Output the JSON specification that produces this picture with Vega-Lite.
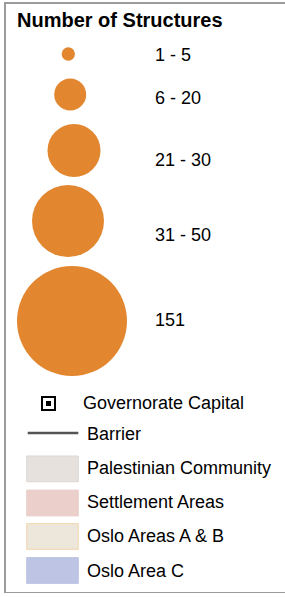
{
  "$schema": "https://vega.github.io/schema/vega-lite/v6.json",
  "width": 285,
  "height": 590,
  "autosize": "none",
  "padding": {"left": 5, "top": 3, "right": 0, "bottom": 0},
  "background": "white",
  "title": {
    "text": "Number of Structures",
    "anchor": "start",
    "frame": "group",
    "orient": "top",
    "offset": -28,
    "dx": 12,
    "font": "Liberation Sans",
    "fontSize": 20,
    "fontWeight": "bold",
    "color": "#000000"
  },
  "config": {
    "view": {"stroke": "#9b9b9b", "strokeWidth": 2},
    "text": {"font": "Liberation Sans"}
  },
  "datasets": {
    "structures": [
      {"label": "1 - 5", "rank": 0},
      {"label": "6 - 20", "rank": 1},
      {"label": "21 - 30", "rank": 2},
      {"label": "31 - 50", "rank": 3},
      {"label": "151", "rank": 4}
    ],
    "features": [
      {"label": "Governorate Capital", "rank": 0},
      {"label": "Barrier", "rank": 1},
      {"label": "Palestinian Community", "rank": 2},
      {"label": "Settlement Areas", "rank": 3},
      {"label": "Oslo Areas A & B", "rank": 4},
      {"label": "Oslo Area C", "rank": 5}
    ]
  },
  "layer": [
    {
      "data": {"name": "structures"},
      "mark": {"type": "point", "shape": "circle", "filled": true, "opacity": 1, "color": "#E2872F", "strokeWidth": 0},
      "encoding": {
        "x": {"field": "rank", "type": "quantitative", "axis": null, "scale": {"domain": [0, 1, 2, 3, 4], "range": [63.3, 65.2, 69, 63, 67], "zero": false, "nice": false}},
        "y": {"field": "rank", "type": "quantitative", "axis": null, "scale": {"domain": [0, 1, 2, 3, 4], "range": [51, 91.5, 147.5, 218, 318], "zero": false, "nice": false}},
        "size": {"field": "label", "type": "ordinal", "legend": null, "scale": {"type": "ordinal", "domain": ["1 - 5", "6 - 20", "21 - 30", "31 - 50", "151"], "range": [177, 1024, 2809, 5184, 12100]}}
      }
    },
    {
      "data": {"name": "structures"},
      "mark": {"type": "text", "align": "left", "baseline": "middle", "fontSize": 18, "color": "#000000", "font": "Liberation Sans"},
      "encoding": {
        "x": {"field": "rank", "type": "quantitative", "axis": null, "scale": {"domain": [0, 4], "range": [150, 150], "zero": false, "nice": false}},
        "y": {"field": "rank", "type": "quantitative", "axis": null, "scale": {"domain": [0, 1, 2, 3, 4], "range": [53.4, 96, 158, 233, 318], "zero": false, "nice": false}},
        "text": {"field": "label"}
      }
    },
    {
      "data": {"name": "features"},
      "mark": {"type": "point", "filled": true, "opacity": 1},
      "encoding": {
        "x": {"field": "rank", "type": "quantitative", "axis": null, "scale": {"domain": [0, 1, 2, 3, 4, 5], "range": [43.5, 48, 47.5, 47.5, 47.5, 47.5], "zero": false, "nice": false}},
        "y": {"field": "rank", "type": "quantitative", "axis": null, "scale": {"domain": [0, 1, 2, 3, 4, 5], "range": [400.5, 430, 465.9, 500, 533.5, 567.5], "zero": false, "nice": false}},
        "shape": {"field": "label", "type": "nominal", "legend": null, "scale": {"domain": ["Governorate Capital", "Barrier", "Palestinian Community", "Settlement Areas", "Oslo Areas A & B", "Oslo Area C"], "range": ["square", "stroke", "M-1,-0.5H1V0.5H-1Z", "M-1,-0.5H1V0.5H-1Z", "M-1,-0.5H1V0.5H-1Z", "M-1,-0.5H1V0.5H-1Z"]}},
        "size": {"field": "label", "type": "ordinal", "legend": null, "scale": {"type": "ordinal", "domain": ["Governorate Capital", "Barrier", "Palestinian Community", "Settlement Areas", "Oslo Areas A & B", "Oslo Area C"], "range": [169, 2560, 2663, 2663, 2663, 2663]}},
        "fill": {"field": "label", "type": "nominal", "legend": null, "scale": {"domain": ["Governorate Capital", "Barrier", "Palestinian Community", "Settlement Areas", "Oslo Areas A & B", "Oslo Area C"], "range": ["#ffffff", "#555555", "#E6E1DD", "#EACFCB", "#EDE6DA", "#BDC4E4"]}},
        "stroke": {"field": "label", "type": "nominal", "legend": null, "scale": {"domain": ["Governorate Capital", "Barrier", "Palestinian Community", "Settlement Areas", "Oslo Areas A & B", "Oslo Area C"], "range": ["#000000", "#555555", "#DCD8D5", "#EACFCB", "#F4D8B0", "#BDC4E4"]}},
        "strokeWidth": {"field": "label", "type": "ordinal", "legend": null, "scale": {"type": "ordinal", "domain": ["Governorate Capital", "Barrier", "Palestinian Community", "Settlement Areas", "Oslo Areas A & B", "Oslo Area C"], "range": [2, 2.5, 1, 1, 1, 1]}}
      }
    },
    {
      "data": {"name": "features"},
      "transform": [{"filter": "datum.label === 'Governorate Capital'"}],
      "mark": {"type": "point", "shape": "square", "filled": true, "opacity": 1, "color": "#000000", "strokeWidth": 0, "size": 25},
      "encoding": {
        "x": {"field": "rank", "type": "quantitative", "axis": null, "scale": {"domain": [0, 5], "range": [43.5, 43.5], "zero": false, "nice": false}},
        "y": {"field": "rank", "type": "quantitative", "axis": null, "scale": {"domain": [0, 5], "range": [400.5, 567.5], "zero": false, "nice": false}}
      }
    },
    {
      "data": {"name": "features"},
      "mark": {"type": "text", "align": "left", "baseline": "middle", "fontSize": 18, "color": "#000000", "font": "Liberation Sans"},
      "encoding": {
        "x": {"field": "rank", "type": "quantitative", "axis": null, "scale": {"domain": [0, 1, 2, 3, 4, 5], "range": [78, 82, 82, 82, 82, 82], "zero": false, "nice": false}},
        "y": {"field": "rank", "type": "quantitative", "axis": null, "scale": {"domain": [0, 1, 2, 3, 4, 5], "range": [401, 432, 466, 500, 534, 569], "zero": false, "nice": false}},
        "text": {"field": "label"}
      }
    }
  ],
  "resolve": {"scale": {"x": "independent", "y": "independent", "size": "independent", "shape": "independent", "fill": "independent", "stroke": "independent", "strokeWidth": "independent"}}
}
